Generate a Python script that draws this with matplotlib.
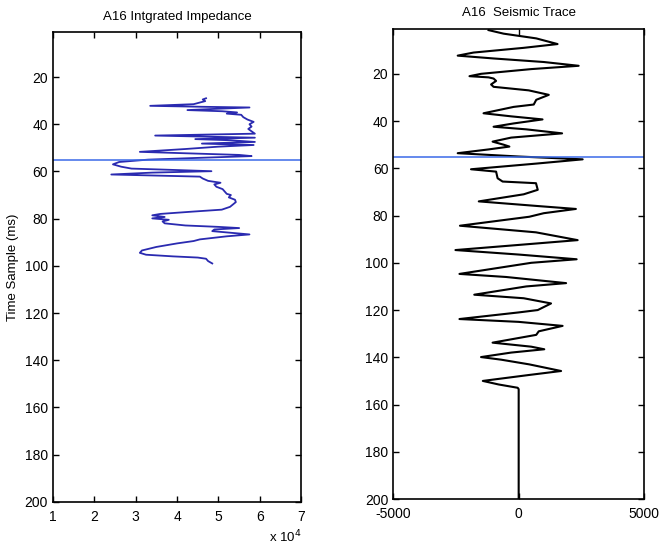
import matplotlib
matplotlib.use("Agg")
import matplotlib.pyplot as plt
import numpy as np

plt.rcParams['font.family'] = ['Liberation Sans', 'DejaVu Sans']
plt.rcParams['axes.unicode_minus'] = False

# Integrated impedance (x 10^4) vs time sample
imp_depth = [29.0, 29.5, 30.2, 30.8, 31.5, 32.2, 32.6, 32.9, 33.5, 34.0, 34.5, 35.0, 35.5, 36.0,
             37.0, 38.0, 39.0, 40.0, 41.0, 42.0, 43.0, 44.0, 44.8, 45.3, 45.7, 46.3, 46.8, 47.5,
             48.2, 48.8, 49.5, 50.5, 51.7, 52.3, 53.0, 53.5, 54.2, 55.0, 56.0, 57.0, 58.0, 58.8,
             59.3, 59.9, 60.5, 61.3, 61.8, 62.2, 63.0, 64.0, 64.8, 65.5, 66.5, 67.5, 68.5, 69.5,
             70.0, 71.0, 72.0, 73.0, 74.0, 75.0, 76.2, 77.0, 78.0, 78.6, 79.3, 79.9, 80.5, 81.2,
             82.0, 82.9, 83.5, 84.0, 84.6, 85.3, 86.0, 86.7, 87.5, 88.8, 89.5, 90.5, 92.0, 93.5,
             94.5, 95.3, 96.0, 96.5, 97.0, 98.0, 99.0]
imp_value = [4.70, 4.62, 4.68, 4.55, 4.40, 3.35, 4.60, 5.75, 4.90, 4.25, 5.10, 5.45, 5.20, 5.55,
             5.60, 5.70, 5.85, 5.75, 5.80, 5.72, 5.80, 5.88, 3.47, 4.80, 5.88, 4.44, 5.30, 5.88,
             4.60, 5.85, 5.00, 4.20, 3.10, 4.20, 5.50, 5.80, 4.60, 3.30, 2.60, 2.45, 2.65, 2.90,
             3.80, 4.83, 3.40, 2.41, 3.60, 4.55, 4.62, 4.75, 5.05, 4.90, 4.95, 5.10, 5.15, 5.20,
             5.30, 5.25, 5.40, 5.42, 5.35, 5.28, 5.08, 4.40, 3.60, 3.40, 3.70, 3.40, 3.80, 3.65,
             3.70, 4.20, 5.00, 5.50, 4.90, 4.85, 5.30, 5.75, 5.20, 4.55, 4.40, 4.00, 3.50, 3.15,
             3.10, 3.25, 3.90, 4.50, 4.70, 4.75, 4.85]

# Seismic trace amplitude vs time sample
seis_depth = [1.5, 3, 5, 7.4, 9, 11, 12.3, 13.5, 15, 16.6, 18, 20, 21, 21.5, 22, 23, 24.5, 25.5,
              27, 28.9, 31, 33, 34, 36.7, 38, 39.3, 41, 42.4, 43.5, 45.2, 47, 48.7, 50, 50.8,
              52, 53.6, 55, 56.2, 58, 60.4, 61.4, 64.2, 65.6, 66.3, 69.1, 71, 74, 76, 77.2, 79,
              80.5, 84.3, 86, 87.1, 90.4, 92, 94.6, 96.5, 98.5, 100, 104.7, 106, 108.6, 110,
              113.5, 115, 117.2, 120, 121, 123.8, 125, 126.7, 129, 130.5, 133.8, 135.5, 136.6,
              138, 139.9, 141, 143, 145.8, 147.5, 150, 151.5, 152.9, 153.5, 200]
seis_value = [-1200, -600, 700, 1550, 200, -1800, -2430, -1000, 1000, 2390, 500, -1500, -1960,
              -1200, -1000, -900, -1100, -1000, 400, 1200, 700, 600, -200, -1400, -300, 950,
              -200, -1000, 300, 1730, -300, -1040, -600, -370, -1200, -2430, 0, 2550, 700,
              -1900, -900, -840, -640, 690, 760, 200, -1590, 800, 2280, 1000, 425, -2340, -500,
              690, 2350, 500, -2520, 0, 2310, 500, -2360, -500, 1890, 300, -1770, 200, 1290,
              760, 0, -2360, 0, 1750, 800, 700, -1040, 500, 1020, -300, -1500, -700, 425, 1690,
              400, -1430, -800, -40, 0, 0]

marker_time = 55
titles = ["A16 Intgrated Impedance", "A16  Seismic Trace"]
ylabel = "Time Sample (ms)"
y_ticks = [20, 40, 60, 80, 100, 120, 140, 160, 180, 200]
imp_xticks = [1, 2, 3, 4, 5, 6, 7]
seis_xticks = [-5000, 0, 5000]

fig = plt.figure(figsize=(6.62, 5.46), dpi=100)
ax1 = fig.add_axes([0.080, 0.081, 0.375, 0.860])
ax2 = fig.add_axes([0.594, 0.086, 0.379, 0.861])

for ax in (ax1, ax2):
    ax.set_ylim(200, 1)
    ax.set_yticks(y_ticks)
    ax.tick_params(direction='in', top=True, right=True, labelsize=10, length=4, width=1)
    ax.tick_params(axis='x', pad=6)
    for s in ax.spines.values():
        s.set_linewidth(1.2)

ax1.plot(imp_value, imp_depth, color='#2a2ab0', lw=1.3)
ax1.axhline(marker_time, color='#3a6ae8', lw=1.1)
ax1.set_xlim(1, 7)
ax1.set_xticks(imp_xticks)
ax1.set_title(titles[0], fontsize=9.5, pad=9)
ax1.set_ylabel(ylabel, fontsize=9.5)
ax1.text(1.0, -0.058, r"x 10$^4$", transform=ax1.transAxes, ha='right', va='top', fontsize=9.5)

ax2.plot(seis_value, seis_depth, color='black', lw=1.5)
ax2.axhline(marker_time, color='#3a6ae8', lw=1.1)
ax2.set_xlim(-5000, 5000)
ax2.set_xticks(seis_xticks)
ax2.set_title(titles[1], fontsize=9.5, pad=9)

fig.savefig("out.png", dpi=100)
